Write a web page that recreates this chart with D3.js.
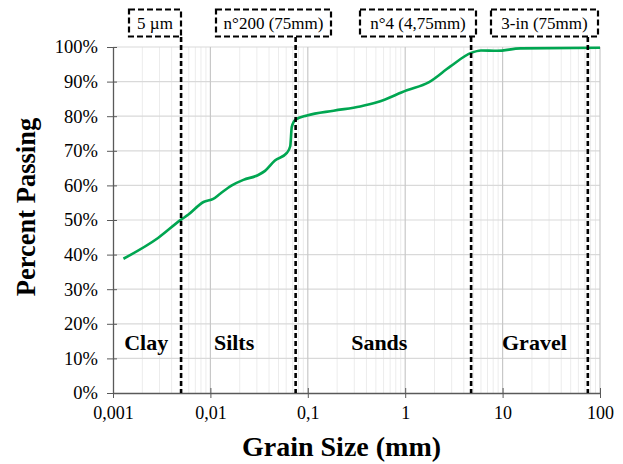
<!DOCTYPE html>
<html><head><meta charset="utf-8">
<script src="https://cdn.jsdelivr.net/npm/d3@7"></script>
<style>body{margin:0;background:#fff}svg{display:block}svg text{font-family:'Liberation Serif','Times New Roman',serif}</style>
</head><body>
<script>
const grainSize = [0.00128, 0.0029, 0.005, 0.0059, 0.0085, 0.0107, 0.0126, 0.0166, 0.0218, 0.031, 0.0364, 0.046, 0.061, 0.066, 0.0685, 0.075, 0.098, 0.184, 0.345, 0.513, 1.04, 1.74, 2.91, 4.75, 6.0, 8.8, 15.2, 100];
const percentPassing = [38.8, 44.8, 50.1, 51.5, 55.2, 56.1, 57.6, 60.0, 61.6, 63.0, 64.2, 67.2, 69.4, 71.3, 76.9, 79.0, 80.2, 81.6, 82.8, 84.0, 87.5, 89.8, 94.4, 98.3, 99.0, 98.9, 99.6, 99.8];
const xTicks = [0.001, 0.01, 0.1, 1, 10, 100];
const xTickLabels = ["0,001", "0,01", "0,1", "1", "10", "100"];
const yTicks = [0, 10, 20, 30, 40, 50, 60, 70, 80, 90, 100];
const limitSizes = [0.005, 0.075, 4.75, 75];
const limitLabels = ["5 µm", "n°200 (75mm)", "n°4 (4,75mm)", "3-in (75mm)"];
const zoneNames = ["Clay", "Silts", "Sands", "Gravel"];
const zoneCenters = [0.00219, 0.0175, 0.542, 21.2];

const W = 623, H = 464;
const m = {l: 113, r: 23, t: 47, b: 71};
const svg = d3.select("body").append("svg").attr("width", W).attr("height", H);
const x = d3.scaleLog().domain([0.001, 100]).range([m.l, W - m.r]);
const y = d3.scaleLinear().domain([0, 100]).range([H - m.b, m.t]);
const serif = "Liberation Serif, Times New Roman, serif";

// minor vertical gridlines
const minor = [];
for (let e = -3; e < 2; e++) for (let k = 2; k <= 9; k++) minor.push(k * Math.pow(10, e));
svg.append("g").selectAll("line").data(minor).join("line")
  .attr("x1", d => x(d)).attr("x2", d => x(d)).attr("y1", y(0)).attr("y2", y(100))
  .attr("stroke", "#ececec").attr("stroke-width", 1);
// horizontal gridlines
svg.append("g").selectAll("line").data(yTicks.slice(1)).join("line")
  .attr("x1", m.l).attr("x2", W - m.r).attr("y1", d => y(d)).attr("y2", d => y(d))
  .attr("stroke", "#d9d9d9").attr("stroke-width", 1.2);
// major vertical gridlines
svg.append("g").selectAll("line").data(xTicks.slice(1)).join("line")
  .attr("x1", d => x(d)).attr("x2", d => x(d)).attr("y1", y(0)).attr("y2", y(100))
  .attr("stroke", "#c8c8c8").attr("stroke-width", 1.2);

// axes
const yAxis = d3.axisLeft(y).tickValues(yTicks).tickFormat(d => d + "%").tickSizeInner(6).tickSizeOuter(0).tickPadding(9);
const gy = svg.append("g").attr("transform", `translate(${m.l},0)`).call(yAxis).attr("font-family", serif);
gy.selectAll("line").attr("stroke", "#595959").attr("x2", -6).attr("x1", 4);
gy.select(".domain").attr("stroke", "#595959").attr("stroke-width", 1.3);
gy.selectAll("text").attr("font-size", 18.5).attr("fill", "#000");

const xAxis = d3.axisBottom(x).tickValues(xTicks).tickFormat((d, i) => xTickLabels[i]).tickSizeInner(5).tickSizeOuter(0).tickPadding(8);
const gx = svg.append("g").attr("transform", `translate(0,${y(0)})`).call(xAxis).attr("font-family", serif);
gx.selectAll("line").attr("stroke", "#595959").attr("y1", -5).attr("y2", 5);
gx.select(".domain").attr("stroke", "#595959").attr("stroke-width", 1.3);
gx.selectAll("text").attr("font-size", 18).attr("fill", "#000");

// zone labels
svg.append("g").selectAll("text").data(zoneNames).join("text")
  .attr("x", (d, i) => x(zoneCenters[i])).attr("y", 350)
  .attr("text-anchor", "middle").attr("font-weight", "bold")
  .attr("font-size", 22).text(d => d);

// curve
const pts = grainSize.map((g, i) => [g, percentPassing[i]]);
svg.append("path").datum(pts)
  .attr("d", d3.line().x(d => x(d[0])).y(d => y(d[1])).curve(d3.curveMonotoneX))
  .attr("fill", "none").attr("stroke", "#00a651").attr("stroke-width", 2.6);

// limit lines and boxes
const boxes = [{x0: 129, x1: 181}, {x0: 216, x1: 331}, {x0: 360, x1: 476}, {x0: 491, x1: 598}];
const gl = svg.append("g");
limitSizes.forEach((s, i) => {
  gl.append("line").attr("x1", x(s)).attr("x2", x(s)).attr("y1", 37).attr("y2", y(0))
    .attr("stroke", "#000").attr("stroke-width", 2.6).attr("stroke-dasharray", "5,3");
  const b = boxes[i];
  gl.append("rect").attr("x", b.x0).attr("y", 9.5).attr("width", b.x1 - b.x0).attr("height", 27)
    .attr("fill", "#fff").attr("stroke", "#000").attr("stroke-width", 2.2).attr("stroke-dasharray", "6,3");
  gl.append("text").attr("x", (b.x0 + b.x1) / 2).attr("y", 29).attr("text-anchor", "middle")
    .attr("font-size", 17).text(limitLabels[i]);
});

// axis titles
svg.append("text").attr("transform", `translate(35,207) rotate(-90)`)
  .attr("text-anchor", "middle").attr("font-weight", "bold")
  .attr("font-size", 26.5).text("Percent Passing");
svg.append("text").attr("x", (m.l + W - m.r) / 2 - 15).attr("y", 456)
  .attr("text-anchor", "middle").attr("font-weight", "bold")
  .attr("font-size", 28).text("Grain Size (mm)");
</script>
</body></html>
